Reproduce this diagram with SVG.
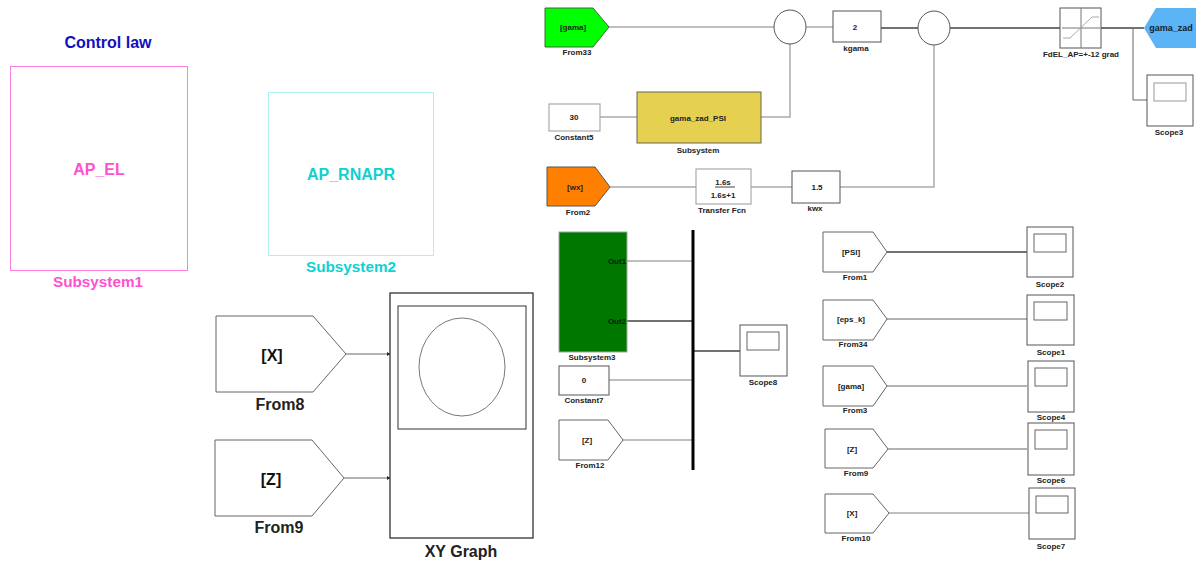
<svg xmlns="http://www.w3.org/2000/svg" width="1196" height="562" viewBox="0 0 1196 562">
<style>
text{font-family:"Liberation Sans",Arial,sans-serif;text-anchor:middle;font-weight:bold;fill:#222}
.s{font-size:8px}
.b{font-size:16px;fill:#111}
.i{font-size:8px}
.blk{fill:#fff;stroke:#555;stroke-width:1}
.lt{fill:#fff;stroke:#aaa;stroke-width:1.2}
.w{fill:none;stroke:#aaa;stroke-width:1.5}
.d{fill:none;stroke:#444;stroke-width:1.5}
.t{fill:none;stroke:#666;stroke-width:1}
</style>
<defs><marker id="tip" markerUnits="userSpaceOnUse" markerWidth="3" markerHeight="4" refX="3" refY="2" orient="auto"><path d="M0 0L3 2L0 4Z" fill="#222"/></marker></defs>
<g id="connectors">
<path class="w" d="M609 27H774M806 27H833"/>
<path class="w" d="M600 117H637M761 117H790V43"/>
<path class="w" d="M610 187H696M751 187H792M840 187H934V45"/>
<path class="d" d="M881 28H918M950 28H1060M1101 28H1144"/>
<path class="t" d="M1133 28V100H1147" stroke-width="1.2"/>
<path class="w" d="M627 261H693M609 380H693M623 440H693"/>
<path class="d" d="M627 321H693M693 351H740"/>
<path class="d" d="M887 252H1027"/>
<path class="t" d="M887 319H1027M887 386H1027M888 449H1027"/>
<path class="w" d="M889 513H1029"/>
<path class="t" d="M346 354H390" marker-end="url(#tip)"/>
<path class="t" d="M344 478H390" marker-end="url(#tip)"/>
<path d="M693 230V470" fill="none" stroke="#000" stroke-width="3"/>
</g>
<text x="108" y="48" style="font-size:16px;fill:#1010c0">Control law</text>
<g id="subsystem1"><rect x="10.5" y="66.500" width="177" height="204" fill="#fff" stroke="#ff80e0"/>
<text x="99" y="175" style="font-size:16px;fill:#ff50d0">AP_EL</text>
<text x="98" y="287" style="font-size:15.300px;fill:#ff50d0">Subsystem1</text></g>
<g id="subsystem2"><rect x="268.500" y="92.500" width="165" height="163" fill="#fff" stroke="#b0f0f0"/>
<text x="351" y="180" style="font-size:16px;fill:#10d0d0">AP_RNAPR</text>
<text x="351" y="272" style="font-size:15.300px;fill:#10d0d0">Subsystem2</text></g>
<g id="from8"><path class="t" fill="#fff" d="M216 316H313L346 354L313 392H216Z"/>
<text x="272" y="361" class="b">[X]</text><text x="280" y="410" style="font-size:16px">From8</text></g>
<g id="from9"><path class="t" d="M215 440H312L344 478L312 516H215Z"/>
<text x="271" y="485" class="b">[Z]</text><text x="279" y="533" style="font-size:16px">From9</text></g>
<g id="xygraph"><rect x="390" y="293" width="143" height="245" fill="#fff" stroke="#222" stroke-width="1.2"/>
<rect x="398" y="306" width="128" height="123" fill="#fff" stroke="#333"/>
<ellipse cx="462" cy="367" rx="43" ry="49" fill="none" stroke="#555" stroke-width=".8"/>
<text x="461" y="557" style="font-size:16px">XY Graph</text></g>
<g id="from33"><path d="M545 8H593L609 27L593 47H545Z" fill="#00ff00" stroke="#3a6a3a"/>
<text x="573" y="30" class="i">[gama]</text><text x="577" y="55" class="s">From33</text></g>
<g id="sum1"><ellipse cx="790" cy="27" rx="16" ry="17" class="blk"/></g>
<g id="kgama"><rect x="833" y="11" width="48" height="31" class="blk"/>
<text x="855" y="30" class="i">2</text><text x="856" y="51" class="s">kgama</text></g>
<g id="constant5"><rect x="549" y="104" width="51" height="27" class="lt"/>
<text x="574" y="120" class="i">30</text><text x="574" y="140" class="s">Constant5</text></g>
<g id="subsystem"><rect x="637" y="92" width="124" height="51" fill="#e6d050" stroke="#665"/>
<text x="698" y="121" class="i">gama_zad_PSI</text><text x="698" y="153" class="s">Subsystem</text></g>
<g id="from2"><path d="M547 167H595L610 187L595 206H547Z" fill="#ff8000" stroke="#555"/>
<text x="575" y="190" class="i">[wx]</text><text x="578" y="215" class="s">From2</text></g>
<g id="transferfcn"><rect x="696" y="169" width="55" height="35" class="lt"/>
<text x="723" y="185" class="i">1.6s</text><path d="M715 187H735" stroke="#444"/><text x="723" y="198" class="i">1.6s+1</text>
<text x="722" y="213" class="s">Transfer Fcn</text></g>
<g id="kwx"><rect x="792" y="171" width="48" height="32" class="blk"/>
<text x="817" y="190" class="i">1.5</text><text x="815" y="211" class="s">kwx</text></g>
<g id="sum2"><ellipse cx="934" cy="28" rx="16" ry="17" class="blk"/></g>
<g id="saturation"><rect x="1060" y="8" width="41" height="40" class="blk"/>
<path d="M1081 8V48M1062 28H1100" stroke="#777" fill="none"/>
<path d="M1063 38H1070L1092 17H1099" stroke="#aaa" fill="none"/>
<text x="1081" y="57" class="s">FdEL_AP=+-12 grad</text></g>
<g id="gamazad"><path d="M1196 8H1156L1144 28L1156 48H1196Z" fill="#5ab4f5"/>
<text x="1171" y="31" style="font-size:9px;fill:#123">gama_zad</text></g>
<g id="scope3"><rect x="1147" y="75" width="46" height="51" class="blk"/><rect x="1154" y="83" width="32" height="18" class="lt"/>
<text x="1169" y="135" class="s">Scope3</text></g>
<g id="subsystem3"><rect x="559" y="232" width="68" height="120" fill="#007800" stroke="#9a9"/>
<text x="617" y="264" class="i" style="fill:#021">Out1</text><text x="617" y="324" class="i" style="fill:#021">Out2</text>
<text x="592" y="360" class="s">Subsystem3</text></g>
<g id="constant7"><rect x="559" y="366" width="50" height="29" class="blk"/>
<text x="584" y="383" class="i">0</text><text x="584" y="403" class="s">Constant7</text></g>
<g id="from12"><path class="t" d="M559 420H608L623 440L608 460H559Z" fill="#fff"/>
<text x="587" y="443" class="i">[Z]</text><text x="590" y="468" class="s">From12</text></g>
<g id="scope8"><rect x="740" y="325" width="47" height="51" class="blk"/><rect x="747" y="332" width="32" height="18" class="t"/>
<text x="763" y="385" class="s">Scope8</text></g>
<g id="from1"><path class="t" d="M823 232H873L887 252L873 272H823Z"/><text x="851" y="255" class="i">[PSI]</text><text x="855" y="280" class="s">From1</text></g>
<g id="from34"><path class="t" d="M823 300H873L887 319L873 340H823Z"/><text x="851" y="322" class="i">[eps_k]</text><text x="853" y="347" class="s">From34</text></g>
<g id="from3"><path class="t" d="M823 366H873L887 386L873 406H823Z"/><text x="851" y="389" class="i">[gama]</text><text x="855" y="413" class="s">From3</text></g>
<g id="from9b"><path class="t" d="M825 429H873L888 449L873 468H825Z"/><text x="852" y="452" class="i">[Z]</text><text x="856" y="476" class="s">From9</text></g>
<g id="from10"><path class="t" d="M825 494H873L889 513L873 533H825Z"/><text x="852" y="516" class="i">[X]</text><text x="856" y="541" class="s">From10</text></g>
<g id="scope2"><rect x="1027" y="227" width="46" height="50" class="blk"/><rect x="1034" y="234" width="32" height="18" class="t"/><text x="1050" y="287" class="s">Scope2</text></g>
<g id="scope1"><rect x="1027" y="295" width="47" height="50" class="blk"/><rect x="1034" y="302" width="33" height="18" class="t"/><text x="1051" y="355" class="s">Scope1</text></g>
<g id="scope4"><rect x="1028" y="361" width="46" height="51" class="blk"/><rect x="1035" y="368" width="32" height="18" class="t"/><text x="1051" y="420" class="s">Scope4</text></g>
<g id="scope6"><rect x="1028" y="423" width="46" height="52" class="blk"/><rect x="1035" y="430" width="32" height="19" class="t"/><text x="1051" y="483" class="s">Scope6</text></g>
<g id="scope7"><rect x="1029" y="488" width="46" height="51" class="blk"/><rect x="1036" y="496" width="32" height="17" class="t"/><text x="1051" y="549" class="s">Scope7</text></g>
</svg>
